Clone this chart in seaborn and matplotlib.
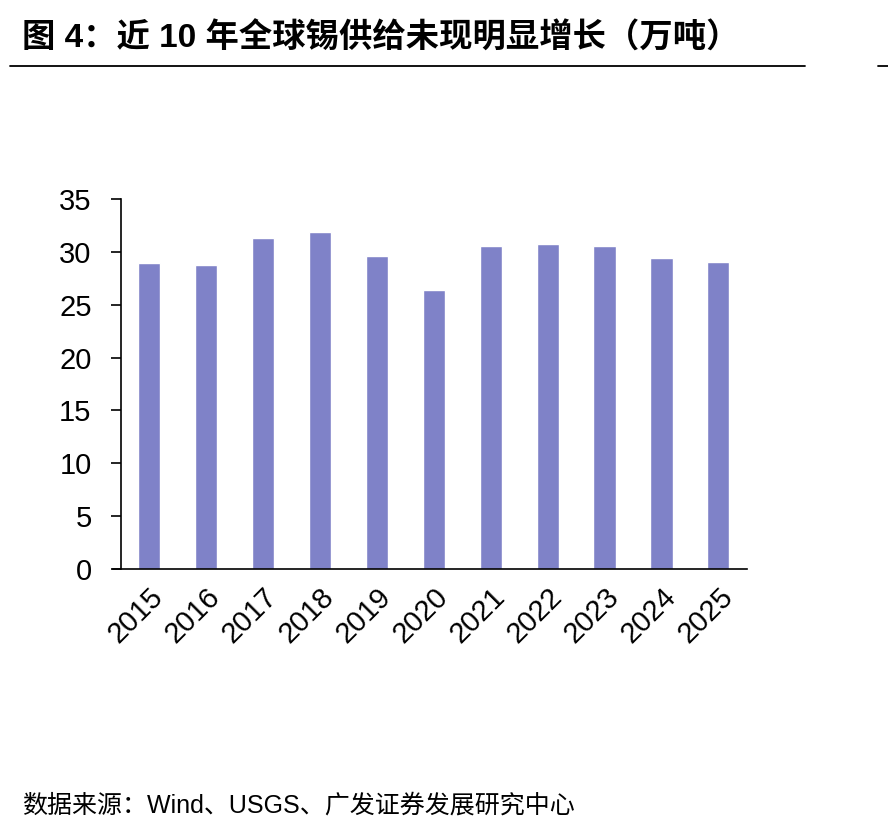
import matplotlib
matplotlib.use('Agg')
from matplotlib import pyplot as plt
import seaborn as sns
import pandas as pd

years = ['2015', '2016', '2017', '2018', '2019', '2020', '2021', '2022', '2023', '2024', '2025']
supply = [28.95, 28.75, 31.3, 31.85, 29.6, 26.4, 30.55, 30.75, 30.55, 29.4, 29.05]
yticks = [0, 5, 10, 15, 20, 25, 30, 35]

title = '图 4：近 10 年全球锡供给未现明显增长（万吨）'
source = '数据来源：Wind、USGS、广发证券发展研究中心'

sns.set_theme(style='white')
plt.rcParams['font.family'] = ['Liberation Sans', 'Noto Sans CJK SC', 'DejaVu Sans']
plt.rcParams['text.color'] = 'black'

df = pd.DataFrame({'year': years, 'supply': supply})

fig = plt.figure(figsize=(8.88, 8.36), dpi=100)
ax = fig.add_axes([0.136, 0.3194, 0.705, 0.4426])

sns.barplot(data=df, x='year', y='supply', color='#7F82C8', saturation=1,
            width=0.39, ax=ax)

ax.set_xlim(-0.5, len(years) - 0.5)
ax.set_ylim(0, 35)
ax.set_yticks(yticks)
ax.set_xlabel('')
ax.set_ylabel('')
for side in ['top', 'right']:
    ax.spines[side].set_visible(False)
for side in ['left', 'bottom']:
    ax.spines[side].set_color('black')
    ax.spines[side].set_linewidth(1.2)
# x axis line runs a little to the left of the y axis
ax.spines['bottom'].set_bounds(-0.5 - 8 / 57, len(years) - 0.5)

ax.tick_params(axis='y', left=True, length=7, width=1.2, color='black',
               labelsize=21, pad=14, labelcolor='black')
ax.tick_params(axis='x', bottom=False, labelsize=21, pad=4, labelcolor='black',
               labelrotation=45)
for lab in ax.get_xticklabels():
    lab.set_ha('right')
    lab.set_rotation_mode('anchor')

fig.text(0.025, 0.973, title, fontsize=24, fontweight='bold', va='top', ha='left',
         family=['Liberation Sans', 'Noto Sans CJK SC'], color='black')
fig.add_artist(plt.Line2D([0.011, 0.907], [0.921, 0.921], color='black', lw=1.3))
fig.add_artist(plt.Line2D([0.989, 1.0], [0.921, 0.921], color='black', lw=1.3))
fig.text(0.025, 0.037, source, fontsize=18, va='center', ha='left',
         family=['Liberation Sans', 'Noto Sans CJK SC'], color='black')

fig.savefig('out.png', dpi=100)
